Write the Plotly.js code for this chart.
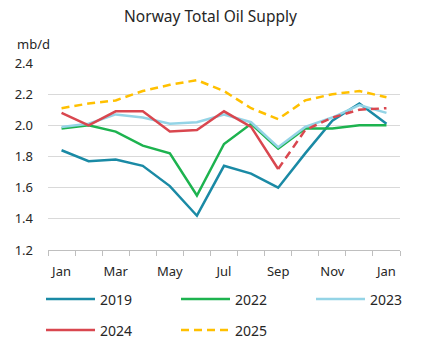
<!DOCTYPE html>
<html>
<head>
<meta charset="utf-8">
<script src="https://cdn.plot.ly/plotly-3.0.1.min.js"></script>
<style>html,body{margin:0;padding:0;background:#fff;}#chart{width:421px;height:355px;}</style>
</head>
<body>
<div id="chart"></div>
<script>
var months = ["Jan","Feb","Mar","Apr","May","Jun","Jul","Aug","Sep","Oct","Nov","Dec","Jan"];
var tickLabels = ["Jan","Mar","May","Jul","Sep","Nov","Jan"];
var y2019 = [1.84,1.77,1.78,1.74,1.61,1.42,1.74,1.69,1.60,1.82,2.03,2.14,2.01];
var y2022 = [1.98,2.00,1.96,1.87,1.82,1.55,1.88,2.01,1.85,1.98,1.98,2.00,2.00];
var y2023 = [1.99,2.01,2.07,2.05,2.01,2.02,2.07,2.02,1.86,1.99,2.05,2.13,2.08];
var y2024 = [2.08,2.00,2.09,2.09,1.96,1.97,2.09,1.99,1.72,null,null,null,null];
var y2024f = [null,null,null,null,null,null,null,null,1.72,1.97,2.05,2.10,2.11];
var y2025 = [2.11,2.14,2.16,2.22,2.26,2.29,2.22,2.11,2.04,2.16,2.20,2.22,2.18];
var seriesNames = ["2019","2022","2023","2024","2025"];

var xs = months.map(function(m,i){return i;});
var tickPos = [0,2,4,6,8,10,12];

var colors = ['#1a8aa5','#1db34f','#94d4e6','#d9474f','#ffc000'];
var dashes = ['solid','solid','solid','solid','8px,5px'];

function tr(name, y, color, dash){
  return {x: xs, y: y, name: name, type: 'scatter', mode: 'lines',
    line: {color: color, width: 2.5, dash: dash || 'solid'}, showlegend: false,
    hoverinfo: 'skip', connectgaps: false};
}
var data = [
  tr(seriesNames[0], y2019, colors[0]),
  tr(seriesNames[1], y2022, colors[1]),
  tr(seriesNames[2], y2023, colors[2]),
  tr(seriesNames[3], y2024, colors[3]),
  tr(seriesNames[4], y2025, colors[4], dashes[4]),
  tr(seriesNames[3] + ' forecast', y2024f, colors[3], '8px,5px')
];

// Manual legend (pixel layout converted to paper coords)
var L = 48, T = 63, W = 352, H = 187;
function px(x){ return (x - L) / W; }
function py(y){ return (T + H - y) / H; }
var colX = [46, 181, 316];
var rowY = [299, 330];
var shapes = [], annotations = [];
seriesNames.forEach(function(n, i){
  var cx = colX[i % 3], cy = rowY[Math.floor(i / 3)];
  shapes.push({type: 'line', xref: 'paper', yref: 'paper', x0: px(cx), x1: px(cx + 49), y0: py(cy), y1: py(cy),
    line: {color: colors[i], width: 2.5, dash: dashes[i]}});
  annotations.push({text: n, xref: 'paper', yref: 'paper', x: px(cx + 52), y: py(cy), xanchor: 'left', yanchor: 'middle',
    showarrow: false, font: {size: 14, color: '#262626'}});
});
annotations.push({text: 'mb/d', xref: 'paper', yref: 'paper', x: px(15), y: py(44),
  xanchor: 'left', yanchor: 'middle', showarrow: false, font: {size: 13, color: '#262626'}});

var layout = {
  width: 421, height: 355,
  margin: {l: 48, r: 21, t: 63, b: 105, autoexpand: false},
  paper_bgcolor: '#fff', plot_bgcolor: '#fff',
  font: {family: 'Noto Sans, Open Sans, sans-serif', size: 13, color: '#262626'},
  title: {text: 'Norway Total Oil Supply', x: 0.5, xanchor: 'center', y: 1 - 17/355, yanchor: 'middle',
    font: {size: 15.5, color: '#262626'}},
  xaxis: {range: [-0.5, 12.5], tickmode: 'array', tickvals: tickPos, ticktext: tickLabels,
    ticks: '', showgrid: false, zeroline: false, showline: true, linecolor: '#bfbfbf', linewidth: 1,
    tickfont: {size: 13}, ticklabelstandoff: 9,
    minor: {tick0: -0.5, dtick: 1, ticks: 'outside', ticklen: 5, tickcolor: '#bfbfbf', tickwidth: 1, showgrid: false},
    fixedrange: true},
  yaxis: {range: [1.2, 2.4], dtick: 0.2, tick0: 1.2, tickformat: '.1f', showgrid: true, gridcolor: '#d9d9d9',
    gridwidth: 1, zeroline: false, showline: false, ticks: '', ticklabelstandoff: 14, tickfont: {size: 13},
    fixedrange: true},
  shapes: shapes,
  annotations: annotations,
  showlegend: false
};
Plotly.newPlot('chart', data, layout, {displayModeBar: false, staticPlot: true});
</script>
</body>
</html>
